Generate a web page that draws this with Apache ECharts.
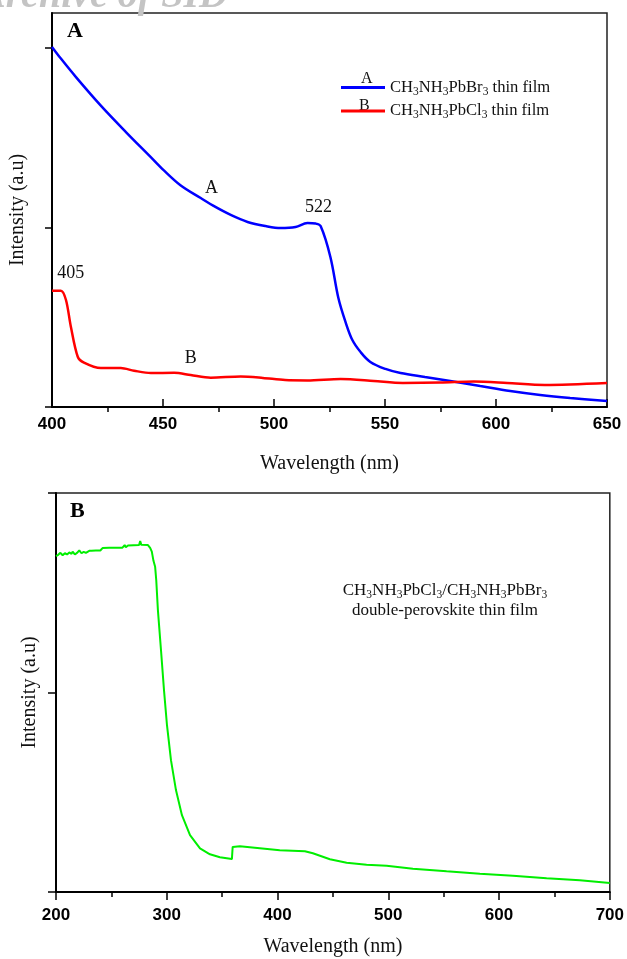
<!DOCTYPE html>
<html>
<head>
<meta charset="utf-8">
<script src="https://cdn.jsdelivr.net/npm/echarts@6/dist/echarts.min.js"></script>
<style>html,body{margin:0;padding:0;background:#fff;}#c{width:627px;height:959px;}</style>
</head>
<body>
<div id="c"></div>
<script>
// ---- Panel A data ----
const wlA = [400,404,410.8,422,433.3,444.5,450.4,458,467,472.8,480.5,488.1,496.2,503,509.7,515.1,518.7,521,525.4,529,532.2,535.3,539,543.4,550.2,557,568,579.4,592.9,606.4,619.9,633.4,650];
const intA = [2.006,1.941,1.838,1.679,1.532,1.392,1.318,1.234,1.164,1.120,1.070,1.031,1.008,0.997,1.003,1.025,1.022,1.008,0.836,0.607,0.474,0.373,0.306,0.251,0.212,0.189,0.167,0.145,0.117,0.089,0.067,0.050,0.033];
const wlB = [400,404,406.3,408.5,411.6,414.4,422,431,437,444.5,455,462.5,471.5,485,495,505,515,530,545,558,575,590,605,622,650];
const intB = [0.648,0.648,0.596,0.447,0.280,0.247,0.217,0.217,0.202,0.189,0.191,0.178,0.163,0.170,0.162,0.150,0.148,0.156,0.145,0.134,0.136,0.142,0.134,0.123,0.134];
// ---- Panel B data ----
const wlC = [200,202,204,205,206,208,210,212,214,215,217,219,221,223,225,227,230,232,236,240,242,248,255,260,262,263,265,270,275,276,277,283,285,286.5,288,289.5,290.5,292,294.8,297.5,300.2,303.8,308.3,313.7,321,330,339,348,358.8,359.5,366,384,402,424.7,431.9,447.3,462.4,480.4,498.5,522.2,552.6,582.7,612.5,642.9,672.9,700];
const intC = [1.684,1.690,1.700,1.706,1.688,1.698,1.692,1.702,1.695,1.706,1.692,1.700,1.712,1.698,1.705,1.700,1.710,1.711,1.712,1.712,1.724,1.725,1.726,1.726,1.739,1.728,1.737,1.738,1.739,1.759,1.740,1.739,1.725,1.706,1.660,1.630,1.564,1.413,1.212,1.012,0.836,0.661,0.511,0.385,0.285,0.219,0.189,0.174,0.165,0.226,0.229,0.219,0.209,0.204,0.194,0.164,0.147,0.137,0.132,0.117,0.104,0.092,0.082,0.069,0.059,0.045];
// ---- axes / labels ----
const nameA = 'CH3NH3PbBr3 thin film';
const nameB = 'CH3NH3PbCl3 thin film';
const xMinorA = [425,475,525,575,625];
const yTicks = [0,1,2];
const annotA = [{t:'A', x:471.9, y:1.22}, {t:'522', x:520, y:1.114}];
const annotB = [{t:'405', x:408.5, y:0.746}, {t:'B', x:462.5, y:0.273}];

const pairs = (xs, ys) => xs.map((x, i) => [x, ys[i]]);
const SERIF = "'Liberation Serif','Times New Roman',serif";
const SANS = "'Liberation Sans',Arial,sans-serif";
const richSub = {
  n: {fontSize: 17, fontFamily: SERIF, color: '#111', lineHeight: 20},
  s: {fontSize: 11.5, fontFamily: SERIF, color: '#111', lineHeight: 9, verticalAlign: 'bottom'}
};
const richLeg = {
  n: {fontSize: 16.6, fontFamily: SERIF, color: '#111', lineHeight: 20},
  s: {fontSize: 11.5, fontFamily: SERIF, color: '#111', lineHeight: 9, verticalAlign: 'bottom'}
};
const chem = s => s.replace(/(\d)/g, '}{s|$1}{n|').replace(/^/, '{n|').concat('}').replace(/\{n\|\}/g, '');

const chart = echarts.init(document.getElementById('c'), null, {renderer: 'canvas'});
const xLabelStyle = {color: '#000', fontFamily: SANS, fontWeight: 'bold', fontSize: 17};
const nameStyle = {color: '#111', fontFamily: SERIF, fontSize: 20};

const mp = arr => ({
  symbol: 'rect', symbolSize: 1, itemStyle: {color: 'rgba(0,0,0,0)'},
  label: {show: true, position: 'inside', color: '#111', fontFamily: SERIF, fontSize: 18, formatter: p => p.name},
  data: arr.map(a => ({name: a.t, coord: [a.x, a.y]}))
});

chart.setOption({
  animation: false,
  backgroundColor: '#fff',
  grid: [
    {left: 51, top: 13, width: 556, height: 394, show: true, borderColor: '#222', borderWidth: 1.5, backgroundColor: 'transparent'},
    {left: 56, top: 493, width: 554, height: 399, show: true, borderColor: '#222', borderWidth: 1.5, backgroundColor: 'transparent'}
  ],
  xAxis: [
    {gridIndex: 0, type: 'value', min: 400, max: 650, interval: 50, position: 'bottom',
     name: 'Wavelength (nm)', nameLocation: 'middle', nameGap: 47, nameTextStyle: nameStyle,
     axisLine: {show: true, lineStyle: {color: '#000', width: 2}},
     axisTick: {show: true, inside: true, length: 8, lineStyle: {color: '#000', width: 1.5}},
     axisLabel: {...xLabelStyle, margin: 9}, splitLine: {show: false}},
    {gridIndex: 0, type: 'value', min: 400, max: 650, interval: 25, position: 'bottom',
     axisLine: {show: false}, axisLabel: {show: false}, splitLine: {show: false},
     axisTick: {show: true, inside: false, length: 5, customValues: xMinorA, lineStyle: {color: '#000', width: 1.5}}},
    {gridIndex: 1, type: 'value', min: 200, max: 700, interval: 100, position: 'bottom',
     name: 'Wavelength (nm)', nameLocation: 'middle', nameGap: 45, nameTextStyle: nameStyle,
     axisLine: {show: true, lineStyle: {color: '#000', width: 2}},
     axisTick: {show: true, inside: false, length: 8, lineStyle: {color: '#000', width: 1.5}},
     minorTick: {show: true, splitNumber: 2, length: 5, lineStyle: {color: '#000', width: 1.5}},
     axisLabel: {...xLabelStyle, margin: 15}, splitLine: {show: false}}
  ],
  yAxis: [
    {gridIndex: 0, type: 'value', min: 0, max: 2.195, interval: 1,
     name: 'Intensity (a.u)', nameLocation: 'middle', nameGap: 24, nameTextStyle: nameStyle,
     axisLine: {show: true, lineStyle: {color: '#000', width: 2}},
     axisTick: {show: true, inside: false, length: 7, customValues: yTicks, lineStyle: {color: '#000', width: 1.5}},
     axisLabel: {show: false}, splitLine: {show: false}},
    {gridIndex: 1, type: 'value', min: 0, max: 2, interval: 1,
     name: 'Intensity (a.u)', nameLocation: 'middle', nameGap: 16, nameTextStyle: nameStyle,
     axisLine: {show: true, lineStyle: {color: '#000', width: 2}},
     axisTick: {show: true, inside: false, length: 8, lineStyle: {color: '#000', width: 1.5}},
     axisLabel: {show: false}, splitLine: {show: false}}
  ],
  legend: {
    orient: 'vertical', left: 341, top: 79, padding: 0, itemWidth: 44, itemHeight: 3, itemGap: 5,
    icon: 'rect', selectedMode: false, data: [nameA, nameB],
    formatter: n => chem(n),
    textStyle: {fontFamily: SERIF, fontSize: 16.6, color: '#111', rich: richLeg}
  },
  series: [
    {name: nameA, type: 'line', xAxisIndex: 0, yAxisIndex: 0, data: pairs(wlA, intA),
     smooth: 0.35, showSymbol: false, lineStyle: {color: '#0000ff', width: 2.5}, itemStyle: {color: '#0000ff'},
     markPoint: mp(annotA)},
    {name: nameB, type: 'line', xAxisIndex: 0, yAxisIndex: 0, data: pairs(wlB, intB),
     smooth: 0.3, showSymbol: false, lineStyle: {color: '#ff0000', width: 2.5}, itemStyle: {color: '#ff0000'},
     markPoint: mp(annotB)},
    {name: 'double', type: 'line', xAxisIndex: 2, yAxisIndex: 1, data: pairs(wlC, intC),
     smooth: false, showSymbol: false, lineStyle: {color: '#00ee00', width: 2}, itemStyle: {color: '#00ee00'}}
  ],
  graphic: [
    {type: 'text', left: -21, top: -23, silent: true,
     style: {text: 'Archive of SID', fill: '#c4c4c4', font: "italic bold 40px 'Liberation Serif', serif"}},
    {type: 'text', left: 67, top: 20, style: {text: 'A', fill: '#000', font: "bold 22px 'Liberation Serif', serif"}},
    {type: 'text', left: 70, top: 500, style: {text: 'B', fill: '#000', font: "bold 22px 'Liberation Serif', serif"}},
    {type: 'text', left: 361, top: 71, style: {text: 'A', fill: '#111', font: "16px 'Liberation Serif', serif"}},
    {type: 'text', left: 359, top: 98, style: {text: 'B', fill: '#111', font: "16px 'Liberation Serif', serif"}},
    {type: 'text', x: 445, y: 581,
     style: {text: chem('CH3NH3PbCl3/CH3NH3PbBr3') + '\n{n|double-perovskite thin film}', rich: richSub, fill: '#111', align: 'center'}}
  ]
});
</script>
</body>
</html>
